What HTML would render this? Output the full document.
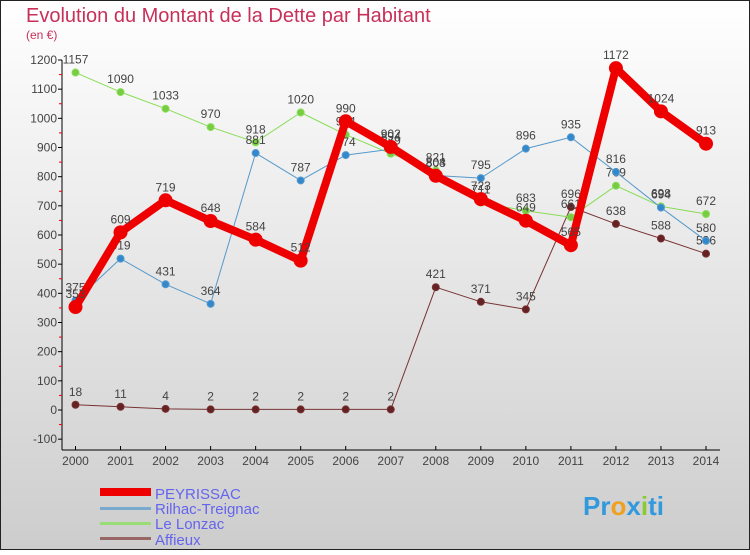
<!DOCTYPE html>
<html><head><meta charset="utf-8"><style>
body{margin:0;width:750px;height:550px;overflow:hidden}
svg text{font-family:"Liberation Sans",sans-serif}
</style></head><body>
<svg id="c" width="750" height="550" xmlns="http://www.w3.org/2000/svg">
<defs><linearGradient id="bg" x1="0" y1="0" x2="0" y2="1"><stop offset="0" stop-color="#ffffff"/><stop offset="1" stop-color="#cdcdcd"/></linearGradient></defs>
<rect x="0.5" y="0.5" width="749" height="549" fill="url(#bg)" stroke="#222"/>
<text x="26" y="22" font-size="20" fill="#c8305a">Evolution du Montant de la Dette par Habitant</text>
<text x="26" y="39" font-size="12" fill="#c8305a">(en €)</text>
<g id="axes"></g><g id="series"></g>
<g>
<rect x="100" y="488" width="51" height="8" fill="#e00"/>
<text x="155" y="499" font-size="15" fill="#6464ee">PEYRISSAC</text>
<rect x="100" y="507" width="51" height="3" fill="#79a9cc"/>
<text x="155" y="514" font-size="15" fill="#6464ee">Rilhac-Treignac</text>
<rect x="100" y="522" width="51" height="3" fill="#99dd77"/>
<text x="155" y="529" font-size="15" fill="#6464ee">Le Lonzac</text>
<rect x="100" y="537" width="51" height="3" fill="#996666"/>
<text x="155" y="545" font-size="15" fill="#6464ee">Affieux</text>
</g>
<text x="583" y="515" font-size="26" font-weight="bold" fill="#3399dd">Pr<tspan fill="#f0a020">o</tspan><tspan fill="#3399dd">x</tspan><tspan fill="#88cc33">i</tspan>ti</text>
</svg>
<script>
const years=[2000,2001,2002,2003,2004,2005,2006,2007,2008,2009,2010,2011,2012,2013,2014];
const yTicks=[-100,0,100,200,300,400,500,600,700,800,900,1000,1100,1200];
const peyrissac=[353,609,719,648,584,512,990,902,803,723,649,565,1172,1024,913];
const rilhac=[375,519,431,364,881,787,874,894,804,795,896,935,816,694,580];
const lonzac=[1157,1090,1033,970,918,1020,944,879,821,711,683,661,769,698,672];
const affieux=[18,11,4,2,2,2,2,2,421,371,345,696,638,588,536];
const NS='http://www.w3.org/2000/svg';
function X(i){return 75.5+i*(706-75.5)/(years.length-1);}
function Y(v){return 410-v*350/1200;}
function mk(t,a,p){const e=document.createElementNS(NS,t);for(const k in a)e.setAttribute(k,a[k]);p.appendChild(e);return e;}
const ax=document.getElementById('axes');
let e=mk('line',{x1:62,y1:Y(1200),x2:62,y2:450,stroke:'#000'},ax);


e=mk('line',{x1:62,y1:450,x2:720,y2:450,stroke:'#000'},ax);


yTicks.forEach(v=>{
 mk('line',{x1:58,y1:Y(v),x2:62,y2:Y(v),stroke:'#000'},ax);
 if(v<1200)mk('line',{x1:59,y1:Y(v+50),x2:62,y2:Y(v+50),stroke:'#e00'},ax);
 const t=mk('text',{x:57,y:Y(v)+4,'font-size':12,fill:'#444','text-anchor':'end'},ax);t.textContent=v;
 
 
});
years.forEach((y,i)=>{
 mk('line',{x1:X(i),y1:446,x2:X(i),y2:450,stroke:'#000'},ax);
 const t=mk('text',{x:X(i),y:465,'font-size':12,fill:'#444','text-anchor':'middle'},ax);t.textContent=y;
 
 
});
const sg=document.getElementById('series');
function draw(data,color,w,r,name,dot){
 const g=mk('g',{},sg);
 
 
 mk('polyline',{points:data.map((v,i)=>X(i)+','+Y(v)).join(' '),fill:'none',stroke:color,'stroke-width':w,'stroke-linejoin':'round'},g);
 data.forEach((v,i)=>{
  const c=mk('circle',{cx:X(i),cy:Y(v),r:r,fill:dot,stroke:color,'stroke-width':1},g);
  
  
  const t=mk('text',{x:X(i),y:Y(v)-9,'font-size':12,fill:'#444','text-anchor':'middle'},g);t.textContent=v;
  
  
 });
}
draw(affieux,'#773333',1,3.5,'affieux','#662222');
draw(lonzac,'#88dd55',1,3.5,'lonzac','#77cc44');
draw(rilhac,'#5599cc',1,3.5,'rilhac','#3388cc');
draw(peyrissac,'#ee0000',8,6.5,'peyrissac','#ee0000');
</script>
</body></html>
